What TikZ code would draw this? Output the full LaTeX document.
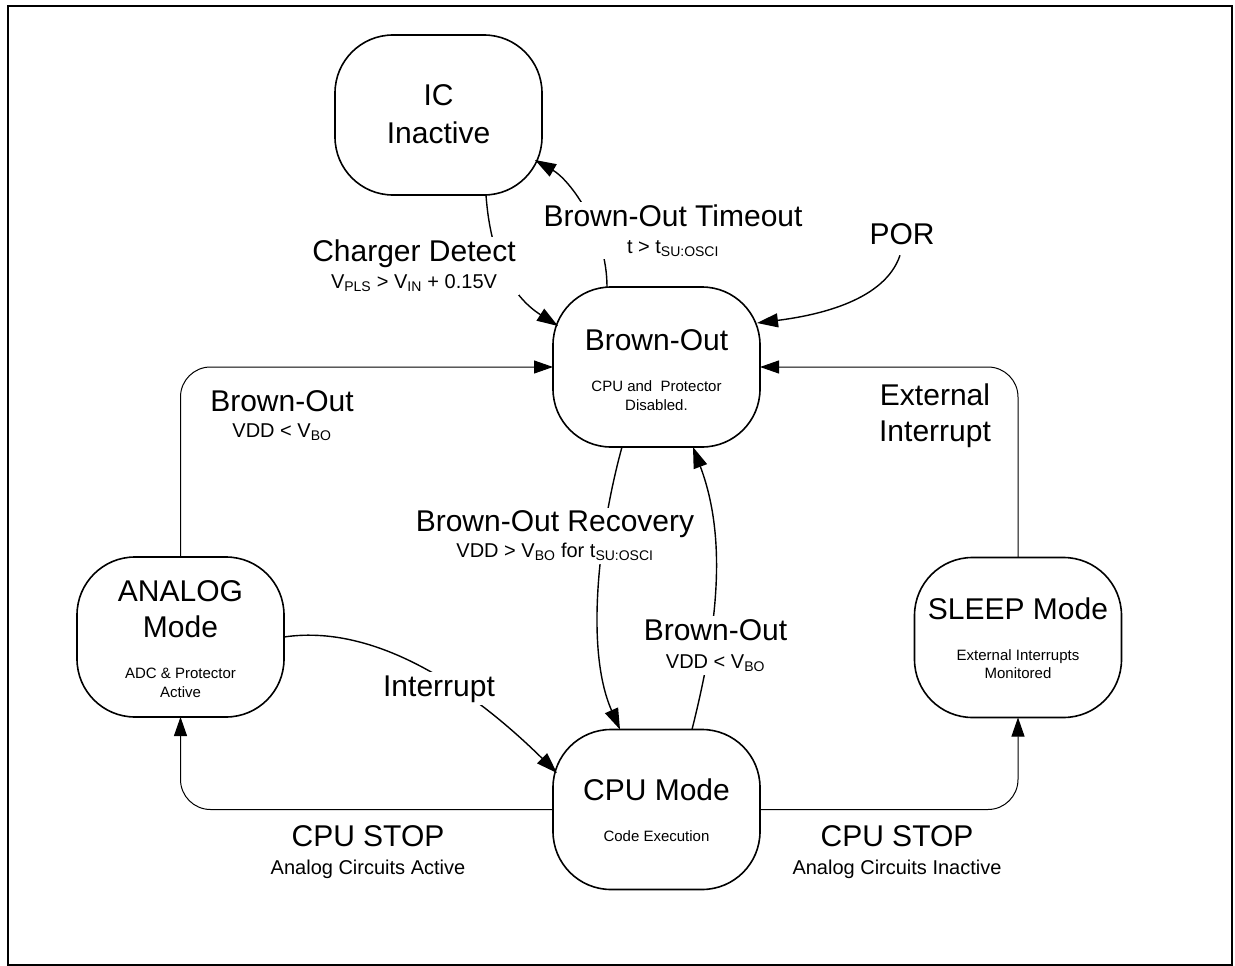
\documentclass[tikz,border=0pt]{standalone}
\usepackage{fontspec}
\setmainfont{Liberation Sans}
\usetikzlibrary{arrows.meta,calc}
\newcommand\fbig{\fontsize{30}{36}\selectfont}
\newcommand\fmid{\fontsize{20}{24}\selectfont}
\newcommand\fsmall{\fontsize{15}{18}\selectfont}
\newcommand\lbltwo[3]{\vbox{\baselineskip=#1\lineskiplimit=-1000pt\lineskip=0pt\halign{\hfil##\hfil\cr#2\cr#3\cr}}}
\tikzset{
  box/.style={draw, line width=1.6pt, rounded corners=58pt, minimum width=207pt, minimum height=160pt, inner sep=0pt, outer sep=0pt},
  curv/.style={line width=1.4pt, -{Triangle[length=21pt,width=14pt]}},
  ortho/.style={line width=1pt, rounded corners=30pt, -{Triangle[length=19pt,width=13pt]}},
  lab/.style={fill=white, inner sep=3pt, outer sep=0pt, anchor=base},
  txt/.style={inner sep=0pt, anchor=base},
}
\begin{document}
\begin{tikzpicture}[x=1pt,y=-1pt]
\useasboundingbox (0,0) rectangle (1235,966);
\draw[line width=2pt] (8,6) rectangle (1232,965);

% states
\node[box] (IC)  at (438.5,115)   {};
\node[box] (BO)  at (656.5,367)   {};
\node[box] (ANA) at (180.5,637)   {};
\node[box] (CPU) at (656.5,809.5) {};
\node[box] (SLP) at (1018,637.5)  {};

% state texts
\node[txt, font=\fbig] (icA) at (438.5,106) {IC};
\node[txt, font=\fbig] (icB) at (438.5,143) {Inactive};
\node[txt, font=\fbig] (boA) at (656.5,350) {Brown-Out};
\node[txt, font=\fsmall] (boB) at (656.5,391.5) {CPU and~ Protector};
\node[txt, font=\fsmall] (boC) at (656.5,410) {Disabled.};
\node[txt, font=\fbig] (anA) at (180.5,601) {ANALOG};
\node[txt, font=\fbig] (anB) at (180.5,637) {Mode};
\node[txt, font=\fsmall] (anC) at (180.5,678.3) {ADC \& Protector};
\node[txt, font=\fsmall] (anD) at (180.5,697) {Active};
\node[txt, font=\fbig] (cpA) at (656.5,800) {CPU Mode};
\node[txt, font=\fsmall] (cpB) at (656.5,841.7) {Code Execution};
\node[txt, font=\fbig] (slA) at (1018,619.5) {SLEEP Mode};
\node[txt, font=\fsmall] (slB) at (1018,660.7) {External Interrupts};
\node[txt, font=\fsmall] (slC) at (1018,678.3) {Monitored};

% POR label (free start)
\node[lab, font=\fbig] (POR) at (902,244) {POR};

% curved connectors
\draw[curv] ($(IC.south)+(47.5,0)$) .. controls (491,265) and (516,299) .. ($(BO.north west)+(5,39)$);
\draw[curv] ($(BO.north)+(-49.5,0)$) .. controls (607,230) and (570,180) .. ($(IC.south east)+(-7,-35)$);
\draw[curv] ($(POR.south)+(-2,8)$) .. controls (885,300) and (820,315) .. ($(BO.north east)+(-3,36)$);
\draw[curv] ($(BO.south)+(-34.5,0)$) .. controls (600,527) and (584,648) .. ($(CPU.north)+(-36.5,0)$);
\draw[curv] ($(CPU.north)+(35.5,0)$) .. controls (717,630) and (728,540) .. ($(BO.south)+(36.5,0)$);
\draw[curv] (ANA.east) .. controls (385,622) and (486,703) .. ($(CPU.north west)+(4,43.5)$);

% orthogonal connectors
\draw[ortho] (ANA.north) |- (BO.west);
\draw[ortho] (SLP.north) |- (BO.east);
\draw[ortho] (CPU.west) -| (ANA.south);
\draw[ortho] (CPU.east) -| (SLP.south);

% labels
\node[lab] (cd) at (414,288.3) {\lbltwo{26.6pt}{\fbig Charger Detect}{\fmid V\textsubscript{PLS} > V\textsubscript{IN} + 0.15V}};
\node[lab] (to) at (673,253) {\lbltwo{26.3pt}{\fbig Brown-Out Timeout}{\fmid t > t\textsubscript{SU:OSCI}}};
\node[lab] (ext) at (935,441.7) {\lbltwo{36.7pt}{\fbig External}{\fbig Interrupt}};
\node[lab] (bol) at (282,437) {\lbltwo{26pt}{\fbig Brown-Out}{\fmid VDD < V\textsubscript{BO}}};
\node[lab] (rec) at (555,557.7) {\lbltwo{26pt}{\fbig Brown-Out Recovery}{\fmid VDD > V\textsubscript{BO} for t\textsubscript{SU:OSCI}}};
\node[lab] (bor) at (715.5,668.3) {\lbltwo{28.3pt}{\fbig Brown-Out}{\fmid VDD < V\textsubscript{BO}}};
\node[lab, font=\fbig] (intr) at (439,696) {Interrupt};
\node[lab] (stl) at (368,874) {\lbltwo{27.3pt}{\fbig CPU STOP}{\fmid Analog Circuits Active}};
\node[lab] (str) at (897,874) {\lbltwo{27.3pt}{\fbig CPU STOP}{\fmid Analog Circuits Inactive}};
\end{tikzpicture}
\end{document}
